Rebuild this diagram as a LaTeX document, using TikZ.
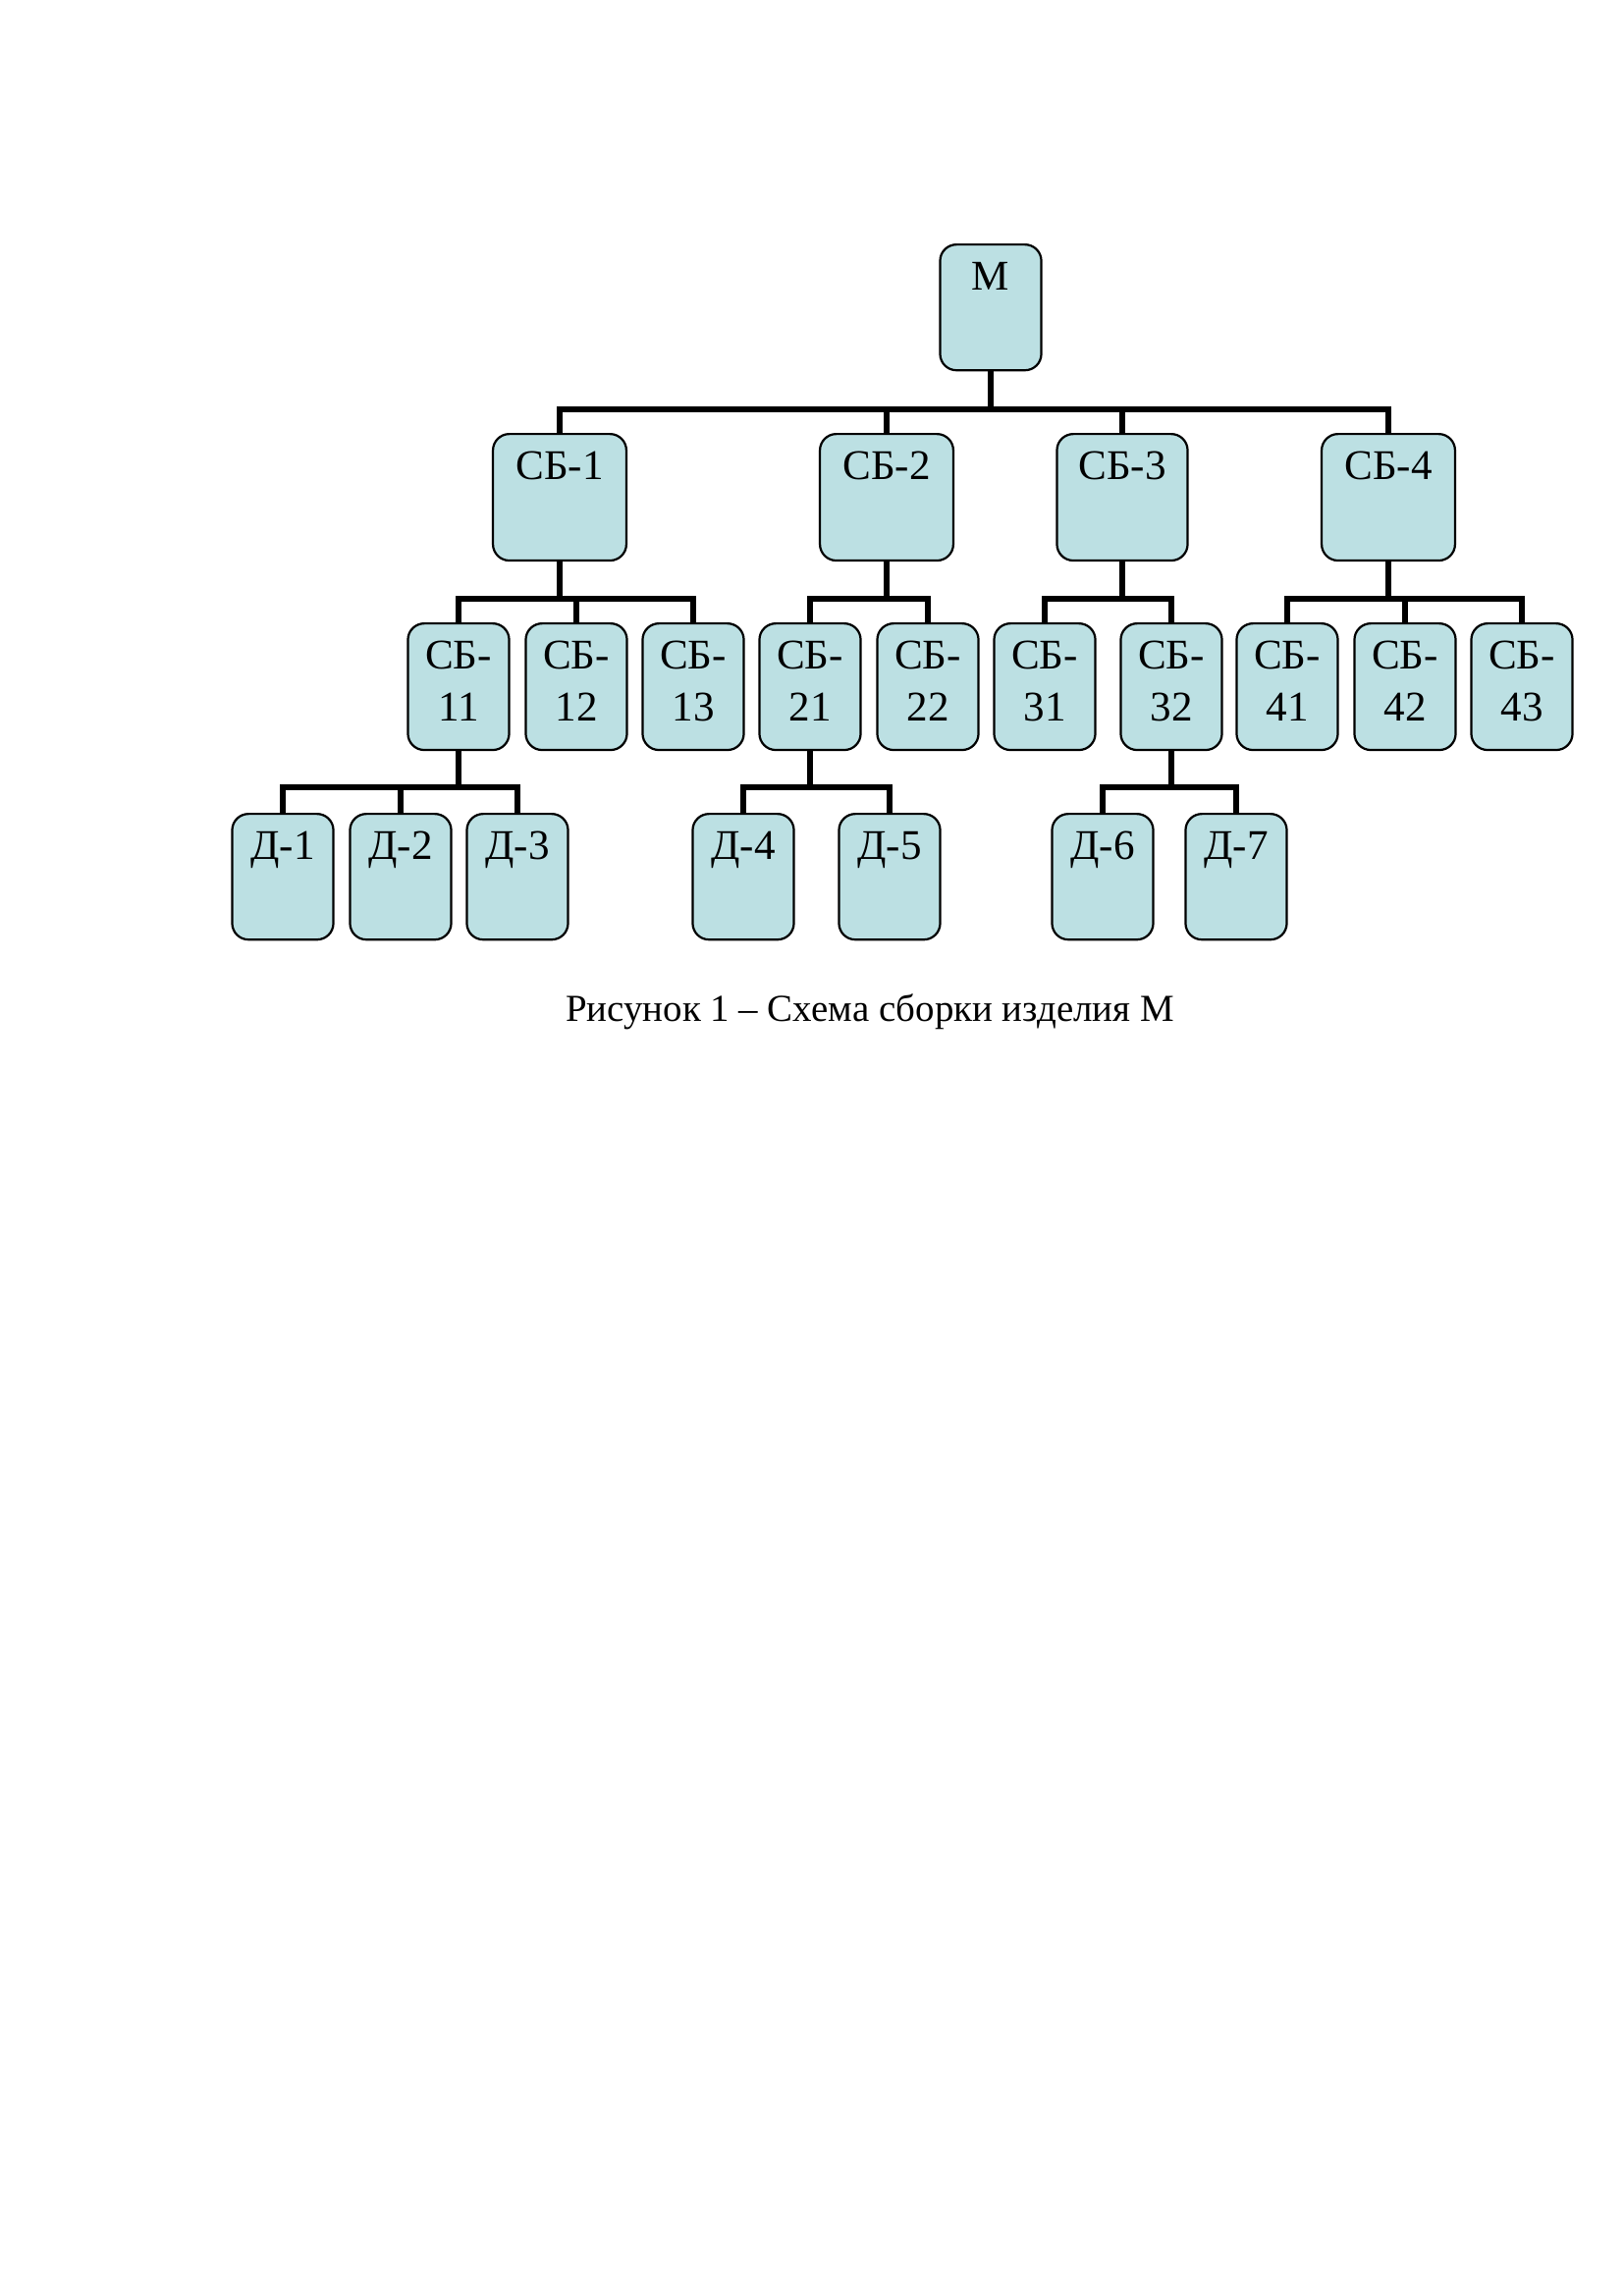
\documentclass[tikz,border=0pt]{standalone}
\usepackage{fontspec}
\setmainfont{Liberation Serif}
\definecolor{boxfill}{RGB}{188,224,227}
\newcommand\bt[3]{\parbox[t][#2][t]{#1}{\centering\rule{0pt}{16.6pt}#3}}
\tikzset{
  blk/.style={draw=black, line width=0.8pt, fill=boxfill, rounded corners=6pt,
    inner sep=0pt, anchor=north, font=\fontsize{15.5pt}{19pt}\selectfont},
  conn/.style={draw=black, line width=2.2pt, line join=miter}
}
\begin{document}
\begin{tikzpicture}[x=0.3599pt, y=-0.3599pt]
\useasboundingbox (0,0) rectangle (1654,2339);
% level 0
\node[blk] (m) at (1009,248) {\bt{37.1pt}{46.1pt}{М}};
% level 1
\node[blk] (s1) at (570,441) {\bt{48.9pt}{46.4pt}{СБ-1}};
\node[blk] (s2) at (903,441) {\bt{48.9pt}{46.4pt}{СБ-2}};
\node[blk] (s3) at (1143,441) {\bt{47.9pt}{46.4pt}{СБ-3}};
\node[blk] (s4) at (1414,441) {\bt{48.9pt}{46.4pt}{СБ-4}};
% level 2
\node[blk] (s11) at (467,634) {\bt{37.1pt}{46.4pt}{СБ-\\11}};
\node[blk] (s12) at (587,634) {\bt{37.1pt}{46.4pt}{СБ-\\12}};
\node[blk] (s13) at (706,634) {\bt{37.1pt}{46.4pt}{СБ-\\13}};
\node[blk] (s21) at (825,634) {\bt{37.1pt}{46.4pt}{СБ-\\21}};
\node[blk] (s22) at (945,634) {\bt{37.1pt}{46.4pt}{СБ-\\22}};
\node[blk] (s31) at (1064,634) {\bt{37.1pt}{46.4pt}{СБ-\\31}};
\node[blk] (s32) at (1193,634) {\bt{37.1pt}{46.4pt}{СБ-\\32}};
\node[blk] (s41) at (1311,634) {\bt{37.1pt}{46.4pt}{СБ-\\41}};
\node[blk] (s42) at (1431,634) {\bt{37.1pt}{46.4pt}{СБ-\\42}};
\node[blk] (s43) at (1550,634) {\bt{37.1pt}{46.4pt}{СБ-\\43}};
% level 3
\node[blk] (d1) at (288,828) {\bt{37.1pt}{46.1pt}{Д-1}};
\node[blk] (d2) at (408,828) {\bt{37.1pt}{46.1pt}{Д-2}};
\node[blk] (d3) at (527,828) {\bt{37.1pt}{46.1pt}{Д-3}};
\node[blk] (d4) at (757,828) {\bt{37.1pt}{46.1pt}{Д-4}};
\node[blk] (d5) at (906,828) {\bt{37.1pt}{46.1pt}{Д-5}};
\node[blk] (d6) at (1123,828) {\bt{37.1pt}{46.1pt}{Д-6}};
\node[blk] (d7) at (1259,828) {\bt{37.1pt}{46.1pt}{Д-7}};
% connectors
\foreach \c in {s1,s2,s3,s4} \draw[conn] (m.south) -- ++(0,39) -| (\c.north);
\foreach \c in {s11,s12,s13} \draw[conn] (s1.south) -- ++(0,38) -| (\c.north);
\foreach \c in {s21,s22} \draw[conn] (s2.south) -- ++(0,38) -| (\c.north);
\foreach \c in {s31,s32} \draw[conn] (s3.south) -- ++(0,38) -| (\c.north);
\foreach \c in {s41,s42,s43} \draw[conn] (s4.south) -- ++(0,38) -| (\c.north);
\foreach \c in {d1,d2,d3} \draw[conn] (s11.south) -- ++(0,37) -| (\c.north);
\foreach \c in {d4,d5} \draw[conn] (s21.south) -- ++(0,37) -| (\c.north);
\foreach \c in {d6,d7} \draw[conn] (s32.south) -- ++(0,37) -| (\c.north);
% caption
\node[anchor=base, inner sep=0pt, font=\fontsize{14pt}{17pt}\selectfont] (cap) at (886,1040) {Рисунок 1 – Схема сборки изделия М};
\end{tikzpicture}
\end{document}
